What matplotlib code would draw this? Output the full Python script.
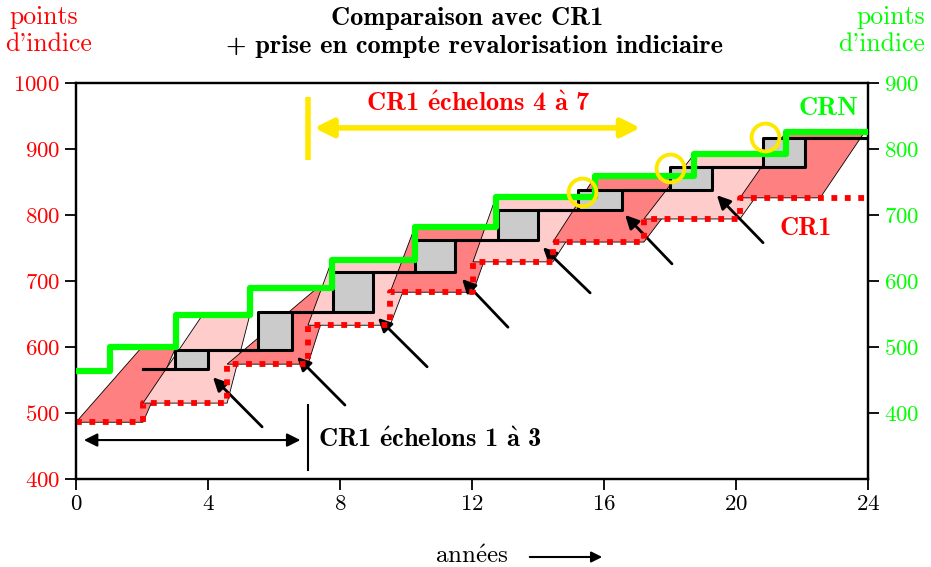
import matplotlib
matplotlib.use('Agg')
import matplotlib.pyplot as plt
from matplotlib.patches import Polygon, FancyArrowPatch
import numpy as np

plt.rcParams['font.family'] = ['cmr10', 'DejaVu Serif']
plt.rcParams['axes.formatter.use_mathtext'] = True
plt.rcParams['mathtext.fontset'] = 'cm'

BOLD = ['cmb10', 'DejaVu Serif']
RED = '#ff0000'
GREEN = '#00ff00'
YELLOW = '#ffe800'
E_AIGU = r'$\mathbf{\acute{e}}$'
A_GRAVE = r'$\mathbf{\grave{a}}$'

# CR1 : début de chaque échelon (années) et indice (axe de gauche)
cr1_start = [0, 2.03, 4.58, 7.03, 9.52, 12.03, 14.45, 17.21, 20.12]
cr1_index = [486, 515, 574, 633, 683, 729, 759, 794, 826]

# CRN : début de chaque échelon (années) et indice (axe de droite)
crn_start = [0, 1.03, 3.03, 5.27, 7.76, 10.27, 12.73, 15.74, 18.73, 21.52]
crn_index = [464, 500, 549, 589, 632, 682, 728, 759, 792, 826]
axis_offset = 100  # axe de droite = axe de gauche - 100

# CR1 revalorisé : escalier noir (axe de gauche)
reval_start = 2.03
reval_level = [566, 595, 653, 713, 762, 808, 838, 872, 916]
step_new = [3.0, 5.52, 7.8, 10.27, 12.8, 15.22, 18.0, 20.83]
step_old = [4.01, 6.54, 8.99, 11.49, 14.01, 16.54, 19.26, 22.09]

# reclassement : échelon CR1 (bas) -> échelon CRN (haut)
shape_bot_end = [2.03, 4.58, 7.03, 9.52, 12.03, 14.45, 17.21, 20.12, 22.55]
shape_top_start = [2.0, 3.84, 7.3, 7.76, 10.27, 12.73, 15.74, 18.73, 21.52]
shape_top_end = [3.03, 5.27, 7.76, 10.27, 12.73, 15.74, 18.73, 21.52, 23.9]

# flèches noires (queue -> pointe), axe de gauche
arrow_tail_x = [5.64, 8.15, 10.64, 13.09, 15.58, 18.06, 20.82]
arrow_tail_y = [479, 512, 570, 630, 682, 726, 758]
arrow_head_x = [4.15, 6.70, 9.15, 11.70, 14.15, 16.64, 19.42]
arrow_head_y = [554, 585, 644, 703, 751, 800, 830]

# cercles jaunes (axe de droite)
circle_x = [15.33, 18.0, 20.88]
circle_y = [735, 771, 818]

fig = plt.figure(figsize=(9.31, 5.67), dpi=100)
ax = fig.add_axes([76 / 931, 1 - 479 / 567, 792 / 931, 396 / 567])
ax2 = ax.twinx()

# parallélogrammes de reclassement
for i in range(len(cr1_start)):
    yb = cr1_index[i]
    yt = crn_index[i + 1] + axis_offset
    pts = [(cr1_start[i], yb), (shape_bot_end[i], yb),
           (shape_top_end[i], yt), (shape_top_start[i], yt)]
    fc = '#ff8080' if i % 2 == 0 else '#ffcccc'
    ax.add_patch(Polygon(pts, closed=True, facecolor=fc, edgecolor='black',
                         lw=0.6, zorder=1 + i * 0.01))

# cases grises entre les deux escaliers
ax.bar(step_new, np.diff(reval_level), width=np.array(step_old) - np.array(step_new),
       bottom=reval_level[:-1], align='edge', color='#cbcbcb', zorder=2)
ax.step([reval_start] + step_new + [24], reval_level + [reval_level[-1]],
        where='post', color='black', lw=2.2, zorder=3)
ax.step([reval_start] + step_old + [24], reval_level + [reval_level[-1]],
        where='post', color='black', lw=2.2, zorder=3)

# CR1 en pointillés
ax.step(cr1_start + [24], cr1_index + [cr1_index[-1]], where='post', color=RED,
        lw=4.2, ls=(0, (1, 1.3)), dash_capstyle='butt', zorder=4)

for tx, ty, hx, hy in zip(arrow_tail_x, arrow_tail_y, arrow_head_x, arrow_head_y):
    ax.annotate('', xy=(hx, hy), xytext=(tx, ty),
                arrowprops=dict(arrowstyle='-|>', color='black', lw=2,
                                mutation_scale=20, shrinkA=0, shrinkB=0))

# CRN
ax2.step(crn_start + [24], crn_index + [crn_index[-1]], where='post', color=GREEN,
         lw=4.5, zorder=5)
ax2.plot(circle_x, circle_y, 'o', ms=20, mfc='none', mec=YELLOW, mew=2.8, zorder=6)

# annotations
ax.plot([7.03, 7.03], [883, 979], color=YELLOW, lw=4, solid_capstyle='butt')
ax.annotate('', xy=(17.1, 932), xytext=(7.22, 932),
            arrowprops=dict(arrowstyle='<|-|>', color=YELLOW, lw=4,
                            mutation_scale=28, shrinkA=0, shrinkB=0))
ax.text(12.18, 968, 'CR1 ' + E_AIGU + 'chelons 4 ' + A_GRAVE + ' 7', color=RED,
        family=BOLD, weight='bold', fontsize=19, ha='center', va='center')
ax.plot([7.03, 7.03], [414, 512], color='black', lw=1.5)
ax.annotate('', xy=(6.8, 459), xytext=(0.24, 459),
            arrowprops=dict(arrowstyle='<|-|>', color='black', lw=1.5,
                            mutation_scale=20, shrinkA=0, shrinkB=0))
ax.text(7.33, 459, 'CR1 ' + E_AIGU + 'chelons 1 ' + A_GRAVE + ' 3', color='black',
        family=BOLD, weight='bold', fontsize=19, ha='left', va='center')
ax.text(22.12, 780, 'CR1', color=RED, family=BOLD, weight='bold', fontsize=19,
        ha='center', va='center')
ax.text(22.79, 962, 'CRN', color=GREEN, family=BOLD, weight='bold', fontsize=19,
        ha='center', va='center')

# axes
ax.set_xlim(0, 24)
ax.set_ylim(400, 1000)
ax2.set_ylim(400 - axis_offset, 1000 - axis_offset)
ax.set_xticks(range(0, 25, 4))
ax.set_yticks(range(400, 1001, 100))
ax2.set_yticks(range(400, 901, 100))
for a in (ax, ax2):
    for s in a.spines.values():
        s.set_linewidth(1.6)
    a.tick_params(width=1.3, length=8, labelsize=16.5)
ax.tick_params(axis='y', labelcolor=RED)
ax2.tick_params(axis='y', labelcolor=GREEN)

fig.text(9 / 931, 1 - 17 / 567, 'points', color=RED, fontsize=18.5, ha='left', va='center')
fig.text(5 / 931, 1 - 44 / 567, "d'indice", color=RED, fontsize=18.5, ha='left', va='center')
fig.text(925 / 931, 1 - 17 / 567, 'points', color=GREEN, fontsize=18.5, ha='right', va='center')
fig.text(925 / 931, 1 - 44 / 567, "d'indice", color=GREEN, fontsize=18.5, ha='right', va='center')
fig.text(467 / 931, 1 - 18 / 567, 'Comparaison avec CR1', family=BOLD, weight='bold',
         fontsize=19, ha='center', va='center')
fig.text(474 / 931, 1 - 47 / 567, '+ prise en compte revalorisation indiciaire',
         family=BOLD, weight='bold', fontsize=19, ha='center', va='center')
fig.text(472 / 931, 1 - 563 / 567, r'ann$\mathrm{\acute{e}}$es', fontsize=18,
         ha='center', va='baseline')
fig.add_artist(FancyArrowPatch(
    (527 / 931, 1 - 557 / 567), (605 / 931, 1 - 557 / 567), transform=fig.transFigure,
    arrowstyle='-|>', color='black', lw=1.5, mutation_scale=16))

fig.savefig('out.png', dpi=100)
